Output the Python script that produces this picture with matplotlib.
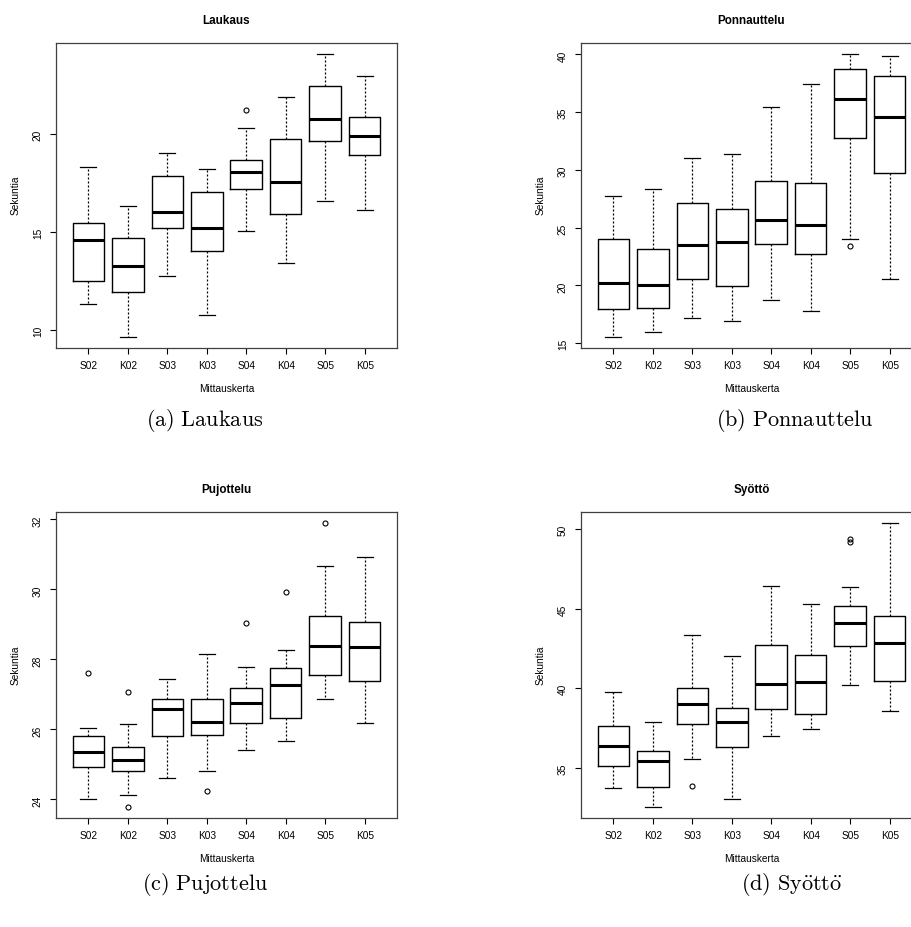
import matplotlib
matplotlib.use('Agg')
import matplotlib.pyplot as plt

plt.rcParams['font.family'] = ['Liberation Sans', 'DejaVu Sans']
plt.rcParams['mathtext.fontset'] = 'cm'

# mittauskerrat
groups = ['S02', 'K02', 'S03', 'K03', 'S04', 'K04', 'S05', 'K05']

# viiden luvun yhteenveto: alaviiksi, Q1, mediaani, Q3, yläviiksi
laukaus = [
    (11.31, 12.48, 14.62, 15.46, 18.32),
    (9.66, 11.92, 13.27, 14.72, 16.33),
    (12.76, 15.20, 16.05, 17.89, 19.03),
    (10.75, 14.06, 15.20, 17.04, 18.21),
    (15.08, 17.19, 18.09, 18.69, 20.32),
    (13.43, 15.90, 17.57, 19.78, 21.90),
    (16.60, 19.66, 20.77, 22.45, 24.08),
    (16.15, 18.93, 19.91, 20.88, 22.97),
]
laukaus_out = [[], [], [], [], [21.22], [], [], []]

ponnauttelu = [
    (15.56, 17.97, 20.18, 23.98, 27.77),
    (15.93, 18.02, 20.00, 23.12, 28.33),
    (17.14, 20.56, 23.52, 27.17, 31.05),
    (16.94, 19.98, 23.75, 26.57, 31.35),
    (18.77, 23.58, 25.68, 29.07, 35.43),
    (17.77, 22.68, 25.22, 28.87, 37.41),
    (24.01, 32.75, 36.09, 38.74, 40.00),
    (20.56, 29.73, 34.59, 38.16, 39.83),
]
ponnauttelu_out = [[], [], [], [], [], [], [23.43], []]

pujottelu = [
    (24.01, 24.93, 25.34, 25.81, 26.04),
    (24.11, 24.82, 25.11, 25.50, 26.15),
    (24.62, 25.81, 26.58, 26.88, 27.45),
    (24.82, 25.84, 26.20, 26.88, 28.15),
    (25.40, 26.17, 26.76, 27.18, 27.77),
    (25.68, 26.32, 27.28, 27.74, 28.28),
    (26.87, 27.55, 28.38, 29.24, 30.68),
    (26.17, 27.38, 28.36, 29.06, 30.94),
]
pujottelu_out = [[27.62], [27.08, 23.79], [], [24.23], [29.03], [29.94], [31.89], []]

syotto = [
    (33.72, 35.13, 36.36, 37.62, 39.74),
    (32.55, 33.76, 35.40, 36.05, 37.90),
    (35.54, 37.73, 38.99, 40.04, 43.37),
    (33.03, 36.30, 37.87, 38.74, 41.99),
    (36.97, 38.71, 40.26, 42.70, 46.41),
    (37.46, 38.40, 40.37, 42.11, 45.32),
    (40.18, 42.66, 44.10, 45.15, 46.33),
    (38.57, 40.45, 42.85, 44.51, 50.36),
]
syotto_out = [[], [], [33.85], [], [], [], [49.39, 49.18], []]

W, H = 912, 927
fig = plt.figure(figsize=(W / 100, H / 100), dpi=100)


def draw_panel(px, title, stats, outliers, yticks, caption, cap_xy):
    l, t, r, b = px
    ax = fig.add_axes([l / W, 1 - b / H, (r - l) / W, (b - t) / H])
    bstats = []
    for name, (lo, q1, med, q3, hi), fl in zip(groups, stats, outliers):
        bstats.append(dict(label=name, whislo=lo, q1=q1, med=med, q3=q3,
                           whishi=hi, fliers=fl))
    ax.bxp(bstats, positions=range(1, len(groups) + 1), widths=0.8, capwidths=0.4,
           boxprops=dict(color='black', lw=1.0),
           medianprops=dict(color='black', lw=2.2),
           whiskerprops=dict(color='black', lw=0.9, linestyle=(0, (1.6, 1.6))),
           capprops=dict(color='black', lw=0.9),
           flierprops=dict(marker='o', markersize=3.6, markerfacecolor='none',
                           markeredgecolor='black', markeredgewidth=0.8))

    # R-tyylinen 4 % marginaali
    vals = [s[0] for s in stats] + [s[4] for s in stats] + [v for fl in outliers for v in fl]
    lo, hi = min(vals), max(vals)
    pad = 0.04 * (hi - lo)
    ax.set_ylim(lo - pad, hi + pad)
    ax.set_xlim(0.5 - 0.32, len(groups) + 0.5 + 0.32)

    ax.set_yticks(yticks)
    ax.set_yticklabels([str(v) for v in yticks])
    ax.tick_params(axis='both', direction='out', length=4.5, width=0.8,
                   labelsize=7.3, pad=5)
    ax.tick_params(axis='y', labelrotation=90)
    for sp in ax.spines.values():
        sp.set_color('#404040')
        sp.set_linewidth(0.9)

    ax.set_title(title, fontsize=8.4, fontweight='bold', pad=14)
    ax.set_xlabel('Mittauskerta', fontsize=7.3, labelpad=9)
    ax.set_ylabel('Sekuntia', fontsize=7.3, labelpad=9)

    fig.text(cap_xy[0] / W, 1 - cap_xy[1] / H, caption, fontsize=16,
             ha='center', va='center')
    return ax


draw_panel((56, 43, 397, 348), 'Laukaus', laukaus, laukaus_out,
           [10, 15, 20], r'$\mathrm{(a)\ Laukaus}$', (205, 421))
draw_panel((581, 43, 922, 348), 'Ponnauttelu', ponnauttelu, ponnauttelu_out,
           [15, 20, 25, 30, 35, 40], r'$\mathrm{(b)\ Ponnauttelu}$', (795, 421))
draw_panel((56, 512, 397, 818), 'Pujottelu', pujottelu, pujottelu_out,
           [24, 26, 28, 30, 32], r'$\mathrm{(c)\ Pujottelu}$', (205, 885))
draw_panel((581, 512, 922, 818), 'Syöttö', syotto, syotto_out,
           [35, 40, 45, 50], r'$\mathrm{(d)\ Sy\ddot{o}tt\ddot{o}}$', (792, 885))

fig.savefig('out.png', dpi=100)
